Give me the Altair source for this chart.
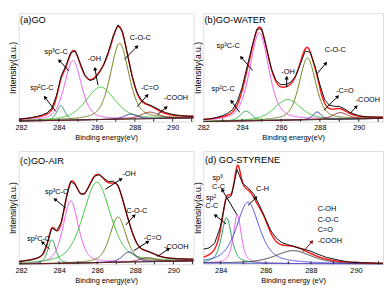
import math
import altair as alt
import numpy as np
import pandas as pd

FONT = "Liberation Sans"

# ---------------- data ----------------
panel_titles = ["(a)GO", "(b)GO-WATER", "(c)GO-AIR", "(d) GO-STYRENE"]
panel_title_pos = [[281.95, 0.94], [282.06, 0.94], [281.95, 0.91], [283.30, 0.92]]
x_domains = [[281.88, 291.10], [282.00, 291.25], [281.88, 291.06], [283.23, 291.20]]
x_tick_labels = [[282, 284, 286, 288, 290]] * 3 + [[284, 286, 288, 290]]
x_minor_ticks = [list(range(282, 292))] * 3 + [list(range(284, 292))]
x_titles = ["Binding energy(eV)"] * 3 + ["Binding energy (eV)"]
panel_w = [179, 184, 179, 184]
panel_h = [111, 111, 116, 116]

# background line (left, right), in fraction of the plot height
bg_ends = [[0.005, 0.035], [0.0, 0.03], [0.0, 0.03], [0.01, 0.0]]
bg_colors = ["#5a1a1a", "#5a1a1a", "#5a1a1a", "#3c3cd0"]
lorentz_share = [0.45, 0.45, 0.45, 0.6]

comp_names = [
    ["sp2 C-C", "sp3 C-C", "-OH", "C-O-C", "-C=O", "-COOH"],
    ["sp2 C-C", "sp3 C-C", "-OH", "C-O-C", "-C=O", "-COOH"],
    ["sp2 C-C", "sp3 C-C", "-OH", "C-O-C", "-C=O", "-COOH"],
    ["sp2 C-C", "sp3 C-C", "C-H", "C-O", "unassigned"],
]
comp_centers = [
    [284.10, 284.74, 286.19, 287.20, 287.79, 288.79],
    [284.20, 284.88, 286.34, 287.36, 287.86, 289.04],
    [283.62, 284.61, 285.98, 287.09, 287.67, 288.66],
    [284.26, 284.74, 285.21, 287.22, 285.90],
]
comp_heights = [
    [0.135, 0.55, 0.30, 0.70, 0.045, 0.06],
    [0.09, 0.81, 0.19, 0.57, 0.07, 0.06],
    [0.21, 0.55, 0.71, 0.40, 0.09, 0.035],
    [0.40, 0.43, 0.54, 0.115, 0.15],
]
comp_fwhm = [
    [0.50, 1.05, 1.80, 1.15, 0.80, 1.10],
    [0.70, 1.15, 1.60, 1.00, 0.50, 0.93],
    [0.50, 0.95, 1.70, 1.00, 0.80, 1.00],
    [0.53, 0.41, 1.20, 1.90, 0.80],
]
comp_colors = [
    ["#1f9e4a", "#ee55ee", "#2ec42e", "#6b7d12", "#2a2aa0", "#8b2525"],
    ["#1f9e4a", "#ee55ee", "#2ec42e", "#6b7d12", "#2a2aa0", "#8b2525"],
    ["#1f9e4a", "#ee55ee", "#2ec42e", "#6b7d12", "#2a2aa0", "#8b2525"],
    ["#1a9e5a", "#e860e8", "#4848e0", "#333333", ""],
]
comp_drawn = [
    [True] * 6, [True] * 6, [True] * 6,
    [True, True, True, True, False],
]

raw_residuals = [
    [0, 0, 0, 0.003, 0.005, 0.008, 0.01, 0.012, 0.015, 0.02, 0.015, 0.012, 0.01,
     0.005, 0, -0.01, -0.015, -0.01, 0, 0.01, 0.015, 0.015, 0.01, 0, -0.005, 0,
     0.005, 0.005, 0.005, 0.008, 0.01, 0.01, 0.008, 0.005, 0.003, 0, 0, 0],
    [0, 0, 0, 0.005, 0.01, 0.015, 0.02, 0.03, 0.03, 0.03, 0.02, 0.01, 0.01, 0,
     0, 0.01, 0.02, 0.02, 0.015, 0, -0.015, -0.02, -0.005, 0.015, 0.03, 0.03,
     0.03, 0.025, 0.02, 0.015, 0.01, 0.01, 0.005, 0, 0, 0, 0, 0],
    [0, 0, 0, 0, 0, 0, 0, 0, 0, 0, 0.005, 0.005, 0, -0.005, -0.01, -0.005, 0, 0,
     0.005, 0.01, 0.015, 0.01, 0.005, 0, 0, 0, 0, 0, 0, 0, 0, 0, 0, 0, 0, 0, 0, 0],
    [0.07, 0.06, 0.05, 0.03, 0.0, -0.02, -0.03, -0.01, 0.02, 0.03, 0.02, 0.01,
     0.02, 0.03, 0.02, 0.01, 0.0, 0.0, 0.01, 0.02, 0.02, 0.02, 0.015, 0.015,
     0.01, 0.005, 0, 0, 0, 0, 0, 0, 0],
]

# annotations: (label, x, y, align)
labels = [
    [("sp³C-C", 283.85, 0.643, "center"), ("sp²C-C", 283.10, 0.307, "center"),
     ("-OH", 285.86, 0.576, "center"), ("C-O-C", 288.29, 0.769, "center"),
     ("-C=O", 288.79, 0.307, "center"), ("-COOH", 290.17, 0.213, "center")],
    [("sp³C-C", 283.28, 0.696, "center"), ("sp²C-C", 283.02, 0.304, "center"),
     ("-OH", 286.36, 0.458, "center"), ("C-O-C", 288.79, 0.661, "center"),
     ("-C=O", 289.29, 0.284, "center"), ("-COOH", 290.47, 0.203, "center")],
    [("sp³C-C", 283.87, 0.638, "center"), ("sp²C-C", 282.92, 0.223, "center"),
     ("-OH", 287.67, 0.792, "center"), ("C-O-C", 288.08, 0.466, "center"),
     ("-C=O", 288.91, 0.228, "center"), ("-COOH", 290.15, 0.148, "center")],
    [("sp³", 283.86, 0.757, "center"), ("C-C", 283.90, 0.683, "center"),
     ("sp²", 283.57, 0.588, "center"), ("C-C", 283.61, 0.511, "center"),
     ("C-H", 285.86, 0.665, "center"),
     ("C-OH", 288.30, 0.490, "left"), ("C-O-C", 288.30, 0.393, "left"),
     ("C=O", 288.30, 0.300, "left"), ("-COOH", 288.30, 0.207, "left")],
]
# arrows: (tail x, tail y, head x, head y, colour)
arrows = [
    [(284.52, 0.468, 284.02, 0.564, "black"), (283.82, 0.096, 283.26, 0.225, "black"),
     (286.06, 0.336, 285.90, 0.488, "black"), (287.45, 0.576, 288.12, 0.693, "black"),
     (288.12, 0.137, 288.66, 0.243, "black"), (289.21, 0.067, 289.66, 0.132, "black")],
    [(284.54, 0.472, 283.95, 0.594, "black"), (283.87, 0.087, 283.45, 0.188, "black"),
     (286.29, 0.319, 286.29, 0.406, "black"), (287.86, 0.443, 288.31, 0.539, "black"),
     (288.20, 0.104, 288.92, 0.232, "black"), (289.55, 0.075, 289.88, 0.139, "black")],
    [(284.35, 0.496, 283.78, 0.573, "black"), (283.50, 0.134, 283.12, 0.193, "black"),
     (286.43, 0.662, 287.26, 0.751, "black"), (287.50, 0.347, 287.95, 0.430, "black"),
     (287.92, 0.119, 288.66, 0.199, "black"), (289.16, 0.068, 289.74, 0.134, "black")],
    [(284.72, 0.437, 284.07, 0.656, "black"), (284.24, 0.355, 283.76, 0.432, "black"),
     (285.21, 0.519, 285.57, 0.588, "black"), (287.65, 0.110, 288.05, 0.200, "#8b0a0a")],
]


def peak(x, c, h, w, eta):
    d = (x - c) / w
    return h * (eta / (1.0 + 4.0 * d * d) + (1.0 - eta) * np.exp(-4.0 * math.log(2) * d * d))


def make_panel(i):
    xmin, xmax = x_domains[i]
    W, H = panel_w[i], panel_h[i]
    eta = lorentz_share[i]

    xsc = alt.Scale(domain=[xmin, xmax], nice=False, zero=False)
    ysc = alt.Scale(domain=[0, 1], nice=False, zero=False)
    xax = alt.Axis(values=x_tick_labels[i], title=x_titles[i], format="d",
                   ticks=False, domain=False, grid=False, labelFlush=False,
                   labelFont=FONT, titleFont=FONT, labelFontSize=7.5,
                   titleFontSize=7.5, labelPadding=2, titlePadding=3,
                   titleFontWeight="normal", labelColor="black", titleColor="black")
    yax = alt.Axis(labels=False, ticks=False, domain=False, grid=False,
                   title="Intensity(a.u.)", titleFont=FONT, titleFontSize=8.8,
                   titlePadding=1, titleFontWeight="normal", titleColor="black")

    def X(f):
        return alt.X(f"{f}:Q", scale=xsc, axis=xax)

    def Y(f):
        return alt.Y(f"{f}:Q", scale=ysc, axis=yax)

    def background(x):
        b0, b1 = bg_ends[i]
        return b0 + (b1 - b0) * (x - xmin) / (xmax - xmin)

    def envelope(x):
        e = background(x)
        for c, h, w in zip(comp_centers[i], comp_heights[i], comp_fwhm[i]):
            e = e + peak(x, c, h, w, eta)
        return e

    xs = np.linspace(xmin, xmax, 500)
    bgv = background(xs)
    comp_rows = []
    for name, c, h, w, col, drawn in zip(comp_names[i], comp_centers[i], comp_heights[i],
                                          comp_fwhm[i], comp_colors[i], comp_drawn[i]):
        if not drawn:
            continue
        yv = bgv + peak(xs, c, h, w, eta)
        comp_rows.append(pd.DataFrame({"x": xs, "y": yv, "s": name, "col": col}))
    comp_df = pd.concat(comp_rows, ignore_index=True)
    bg_df = pd.DataFrame({"x": xs, "y": bgv})
    env_df = pd.DataFrame({"x": xs, "y": envelope(xs)})
    res = np.array(raw_residuals[i])
    xr = np.linspace(xmin, xmax, len(res))
    raw_df = pd.DataFrame({"x": xr, "y": envelope(xr) + res})

    comp = alt.Chart(comp_df).mark_line(strokeWidth=1, clip=True).encode(
        x=X("x"), y=Y("y"), detail="s:N",
        color=alt.Color("col:N", scale=None))
    bgl = alt.Chart(bg_df).mark_line(strokeWidth=1, color=bg_colors[i], clip=True).encode(
        x=X("x"), y=Y("y"))
    env = alt.Chart(env_df).mark_line(strokeWidth=1.5, color="#ff1a1a", clip=True).encode(
        x=X("x"), y=Y("y"))
    raw = alt.Chart(raw_df).mark_line(strokeWidth=1, color="#111111", clip=True).encode(
        x=X("x"), y=Y("y"))

    tick_df = pd.DataFrame({"t": x_minor_ticks[i]})
    tick_df = tick_df[(tick_df.t > xmin) & (tick_df.t < xmax)]
    ticks = alt.Chart(tick_df).mark_rule(color="#222222", strokeWidth=1).encode(
        x=X("t"), y=alt.value(H), y2=alt.value(H - 3))

    arows = []
    for (x1, y1, x2, y2, col) in arrows[i]:
        dx = (x2 - x1) / (xmax - xmin) * W
        dy = -(y2 - y1) * H
        ang = math.degrees(math.atan2(dx, -dy)) % 360
        arows.append({"x1": x1, "y1": y1, "x2": x2, "y2": y2, "col": col, "ang": ang})
    arr_df = pd.DataFrame(arows)
    arr = alt.Chart(arr_df).mark_rule(strokeWidth=1).encode(
        x=X("x1"), y=Y("y1"), x2="x2:Q", y2="y2:Q", color=alt.Color("col:N", scale=None))
    heads = alt.Chart(arr_df).mark_point(shape="triangle-up", filled=True, size=18,
                                         opacity=1, strokeWidth=0).encode(
        x=X("x2"), y=Y("y2"), angle=alt.Angle("ang:Q", scale=None),
        color=alt.Color("col:N", scale=None))

    lab_df = pd.DataFrame(labels[i], columns=["t", "x", "y", "al"])
    txt_c = alt.Chart(lab_df[lab_df.al == "center"]).mark_text(
        font=FONT, fontSize=7.5, align="center", baseline="middle", color="black").encode(
        x=X("x"), y=Y("y"), text="t:N")
    layers = [comp, bgl, env, raw, ticks, arr, heads, txt_c]
    if (lab_df.al == "left").any():
        txt_l = alt.Chart(lab_df[lab_df.al == "left"]).mark_text(
            font=FONT, fontSize=7.5, align="left", baseline="middle", color="black").encode(
            x=X("x"), y=Y("y"), text="t:N")
        layers.append(txt_l)
    tdf = pd.DataFrame({"t": [panel_titles[i]], "x": [panel_title_pos[i][0]],
                        "y": [panel_title_pos[i][1]]})
    title = alt.Chart(tdf).mark_text(font=FONT, fontSize=9.5, align="left",
                                     baseline="middle", color="black").encode(
        x=X("x"), y=Y("y"), text="t:N")
    layers.append(title)
    return alt.layer(*layers).properties(width=W, height=H)


panels = [make_panel(i) for i in range(4)]
chart = alt.concat(*panels, columns=2, spacing={"row": 30, "column": 10},
                   bounds="flush").properties(
    padding={"left": 0, "top": 1, "right": 0, "bottom": 0},
    background="white",
).configure_view(stroke="#222222", strokeWidth=1).configure(font=FONT)

chart.save("out.html", embed_options={"renderer": "svg", "actions": False})
